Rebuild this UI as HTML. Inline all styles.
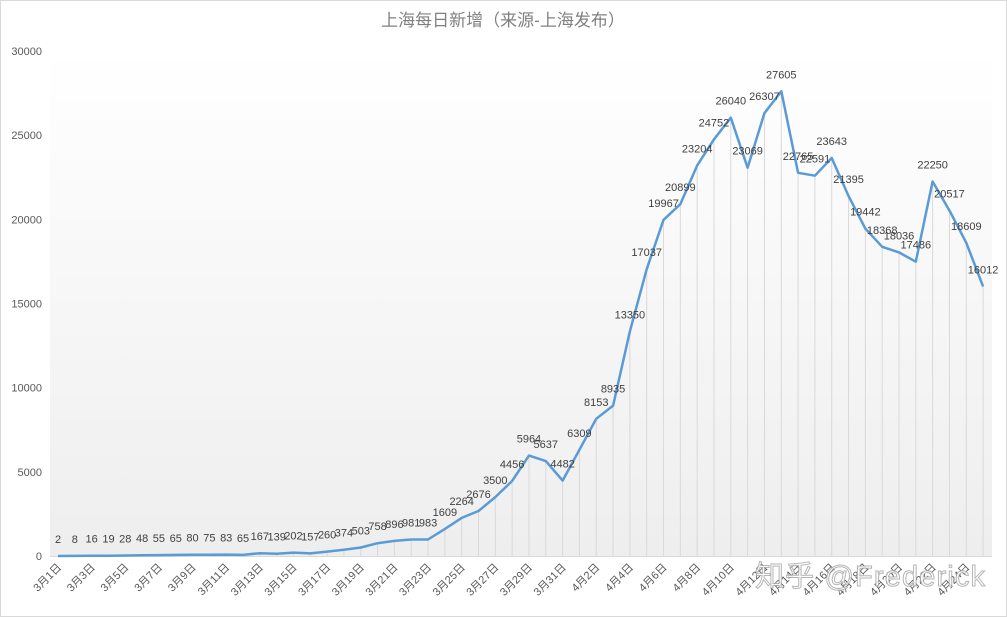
<!DOCTYPE html>
<html><head><meta charset="utf-8"><style>
body{margin:0;background:#fff;}
svg{display:block;font-family:"Liberation Sans","Noto Sans CJK SC",sans-serif;}
</style></head><body>
<svg id="c" width="1007" height="617" xmlns="http://www.w3.org/2000/svg">
<defs><linearGradient id="g" x1="0" y1="0" x2="0" y2="1"><stop offset="0" stop-color="#ffffff"/><stop offset="1" stop-color="#eeeeee"/></linearGradient></defs>
<rect x="0.5" y="0.5" width="1006" height="616" fill="#fff" stroke="#d9d9d9"/>
<rect x="50" y="51" width="942" height="505" fill="url(#g)"/>
<text x="503" y="26" text-anchor="middle" font-size="17" fill="#808080">上海每日新增（来源-上海发布）</text>
<g id="grid"></g><g id="yl"></g><g id="xl"></g>
<polyline id="ln" fill="none" stroke="#5b9bd5" stroke-width="2.5" stroke-linejoin="round"/>
<g id="dl"></g>
<text x="755" y="586" font-size="29" fill="#fff" stroke="#aaa" stroke-width="1" opacity="0.85" textLength="230">知乎 @Frederick</text>
</svg>
<script>
var v=[2,8,16,19,28,48,55,65,80,75,83,65,167,139,202,157,260,374,503,758,896,981,983,1609,2264,2676,3500,4456,5964,5637,4482,6309,8153,8935,13350,17037,19967,20899,23204,24752,26040,23069,26307,27605,22765,22591,23643,21395,19442,18368,18036,17486,22250,20517,18609,16012];
var ns="http://www.w3.org/2000/svg";
function X(i){return 58+i*16.82;}function Y(d){return 556-d*0.016833;}
function el(t,a,p,txt){var e=document.createElementNS(ns,t);for(var k in a)e.setAttribute(k,a[k]);if(txt!=null)e.textContent=txt;document.getElementById(p).appendChild(e);}
for(var y=0;y<=30000;y+=5000)el('text',{x:42,y:Y(y)+4,'text-anchor':'end','font-size':11,fill:'#595959'},'yl',y);
var pts=[];
for(var i=0;i<v.length;i++){var x=X(i),y=Y(v[i]);pts.push(x.toFixed(1)+','+y.toFixed(1));
el('line',{x1:x,y1:y,x2:x,y2:556,stroke:'#d9d9d9','stroke-width':1},'grid');
el('text',{x:x,y:y-13,'text-anchor':'middle','font-size':11,fill:'#404040'},'dl',v[i]);
if(i%2==0){var m=i<31?'3月'+(i+1)+'日':'4月'+(i-30)+'日';
el('text',{x:x+4,y:568,'text-anchor':'end','font-size':11,fill:'#595959',transform:'rotate(-45 '+(x+4)+' 568)'},'xl',m);}}
el('line',{x1:50,y1:556.5,x2:992,y2:556.5,stroke:'#d9d9d9'},'grid');
document.getElementById('ln').setAttribute('points',pts.join(' '));
</script>
</body></html>
